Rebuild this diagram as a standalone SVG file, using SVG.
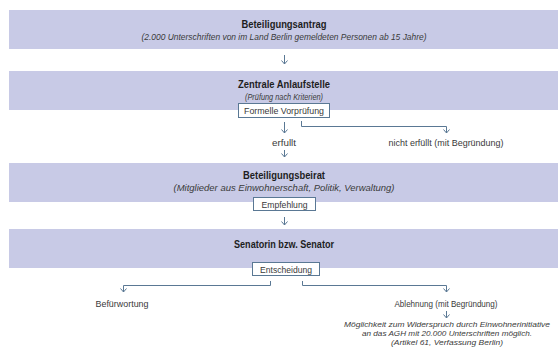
<svg xmlns="http://www.w3.org/2000/svg" width="558" height="351" viewBox="0 0 558 351">
  <style>
    .band { fill: #c8cae6; }
    .box { fill: #ffffff; stroke: #5a7894; stroke-width: 1; }
    .title { font-family: "Liberation Sans", Arial, sans-serif; font-weight: bold; font-size: 11px; fill: #1e1e1e; text-anchor: middle; }
    .sub { font-family: "Liberation Sans", Arial, sans-serif; font-style: italic; font-size: 9px; fill: #3a3a3a; text-anchor: middle; }
    .note { font-family: "Liberation Sans", Arial, sans-serif; font-style: italic; font-size: 7.8px; fill: #3a3a3a; text-anchor: middle; }
    .lbl { font-family: "Liberation Sans", Arial, sans-serif; font-size: 9px; fill: #3a3a3a; text-anchor: middle; }
    .conn { fill: none; stroke: #5a7894; stroke-width: 1; }
  </style>
  <defs>
    <marker id="arr" viewBox="0 0 8 8" refX="7" refY="4" markerWidth="8" markerHeight="8" markerUnits="userSpaceOnUse" orient="auto">
      <path d="M3.5,1 L7,4 L3.5,7" fill="none" stroke="#5a7894" stroke-width="1"/>
    </marker>
  </defs>
  <rect width="558" height="351" fill="#ffffff"/>

  <g id="beteiligungsantrag">
    <rect class="band" x="9" y="10" width="549" height="39"/>
    <text class="title" x="284" y="28" textLength="85" lengthAdjust="spacingAndGlyphs">Beteiligungsantrag</text>
    <text class="sub" x="284" y="40" textLength="285" lengthAdjust="spacingAndGlyphs">(2.000 Unterschriften von im Land Berlin gemeldeten Personen ab 15 Jahre)</text>
  </g>

  <g id="zentrale-anlaufstelle">
    <rect class="band" x="9" y="71" width="549" height="39"/>
    <text class="title" x="284" y="88" textLength="92" lengthAdjust="spacingAndGlyphs">Zentrale Anlaufstelle</text>
    <text class="sub" x="284" y="100" textLength="78" lengthAdjust="spacingAndGlyphs">(Prüfung nach Kriterien)</text>
  </g>

  <g id="formelle-vorpruefung">
    <rect class="box" x="238.5" y="103.5" width="91" height="14"/>
    <text class="lbl" x="284" y="114" textLength="80" lengthAdjust="spacingAndGlyphs">Formelle Vorprüfung</text>
  </g>

  <g id="erfuellt">
    <text class="lbl" x="284" y="146" textLength="24" lengthAdjust="spacingAndGlyphs">erfullt</text>
  </g>

  <g id="nicht-erfuellt">
    <text class="lbl" x="446" y="146" textLength="115" lengthAdjust="spacingAndGlyphs">nicht erfüllt (mit Begründung)</text>
  </g>

  <g id="beteiligungsbeirat">
    <rect class="band" x="9" y="163" width="549" height="39"/>
    <text class="title" x="284" y="179" textLength="82" lengthAdjust="spacingAndGlyphs">Beteiligungsbeirat</text>
    <text class="sub" x="284" y="191" textLength="221" lengthAdjust="spacingAndGlyphs">(Mitglieder aus Einwohnerschaft, Politik, Verwaltung)</text>
  </g>

  <g id="empfehlung">
    <rect class="box" x="253.5" y="197.5" width="62" height="13"/>
    <text class="lbl" x="284.5" y="207.5" textLength="46" lengthAdjust="spacingAndGlyphs">Empfehlung</text>
  </g>

  <g id="senator">
    <rect class="band" x="9" y="229" width="549" height="39"/>
    <text class="title" x="284" y="248" textLength="100" lengthAdjust="spacingAndGlyphs">Senatorin bzw. Senator</text>
  </g>

  <g id="entscheidung">
    <rect class="box" x="252.5" y="262.5" width="67" height="13"/>
    <text class="lbl" x="286" y="272.5" textLength="52" lengthAdjust="spacingAndGlyphs">Entscheidung</text>
  </g>

  <g id="befuerwortung">
    <text class="lbl" x="122" y="307" textLength="53" lengthAdjust="spacingAndGlyphs">Befürwortung</text>
  </g>

  <g id="ablehnung">
    <text class="lbl" x="446" y="307" textLength="103" lengthAdjust="spacingAndGlyphs">Ablehnung (mit Begründung)</text>
  </g>

  <g id="widerspruch">
    <text class="note" x="447" y="327" textLength="206" lengthAdjust="spacingAndGlyphs">Möglichkeit zum Widerspruch durch Einwohnerinitiative</text>
    <text class="note" x="447" y="336" textLength="170" lengthAdjust="spacingAndGlyphs">an das AGH mit 20.000 Unterschriften möglich.</text>
    <text class="note" x="447" y="345" textLength="112" lengthAdjust="spacingAndGlyphs">(Artikel 61, Verfassung Berlin)</text>
  </g>

  <g id="connectors">
    <path class="conn" d="M284.5,55 V64" marker-end="url(#arr)"/>
    <path class="conn" d="M284.5,122 V133" marker-end="url(#arr)"/>
    <path class="conn" d="M301.5,121 V126.5 H446.5 V133" marker-end="url(#arr)"/>
    <path class="conn" d="M284.5,150 V157" marker-end="url(#arr)"/>
    <path class="conn" d="M284.5,217 V225" marker-end="url(#arr)"/>
    <path class="conn" d="M270.5,281 V285.5 H123.5 V292" marker-end="url(#arr)"/>
    <path class="conn" d="M302.5,281 V285.5 H446.5 V292" marker-end="url(#arr)"/>
    <path class="conn" d="M446.5,311 V318" marker-end="url(#arr)"/>
  </g>
</svg>
